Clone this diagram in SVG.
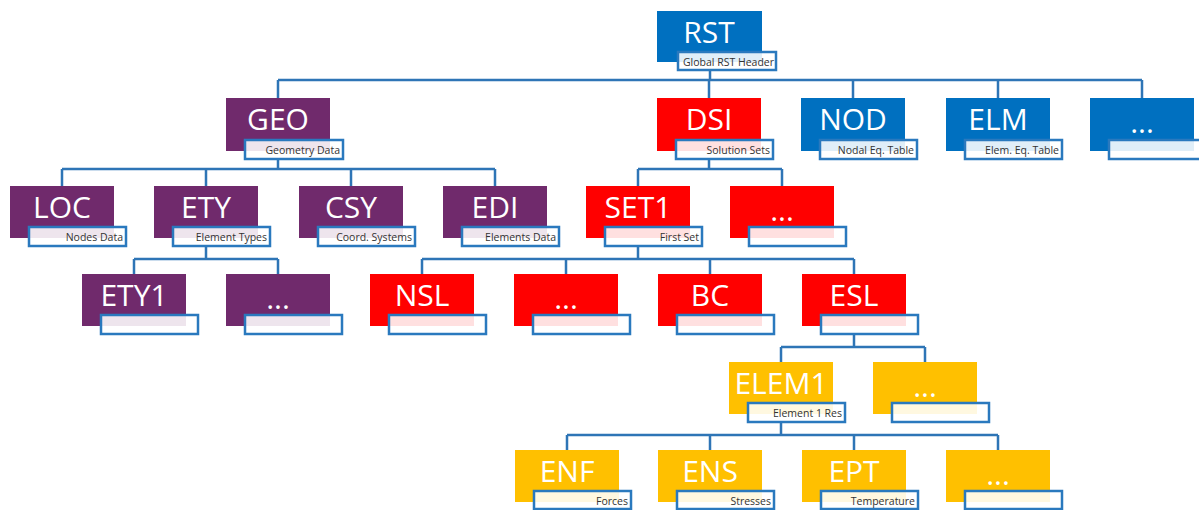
<svg xmlns="http://www.w3.org/2000/svg" width="1199" height="510" viewBox="0 0 1199 510">
<style>
.box{stroke:none}
.blue{fill:#0070C0}
.purple{fill:#702A6C}
.red{fill:#FF0000}
.gold{fill:#FFC000}
.lbl{fill:#ffffff;fill-opacity:0.88;stroke:#2A79BE;stroke-width:2.5}
.t{font-family:"Open Sans","Liberation Sans",sans-serif;font-size:30px;fill:#ffffff;text-anchor:middle}
.s{font-family:"Open Sans","Liberation Sans",sans-serif;font-size:10.5px;fill:#333333;text-anchor:end}
.c{fill:none;stroke:#2E75B6;stroke-width:2.5}
</style>
<rect width="1199" height="510" fill="#ffffff"/>
<g id="connectors">
<path class="c" d="M710 71V80M278 80H1142M278 80V98M709 80V98M853 80V98M998 80V98M1142 80V98"/>
<path class="c" d="M278 159V169M62 169H495M62 169V186M206 169V186M351 169V186M495 169V186"/>
<path class="c" d="M709 159V169M638 169H782M638 169V186M782 169V186"/>
<path class="c" d="M206 246V259M134 259H278M134 259V274M278 259V274"/>
<path class="c" d="M638 246V259M422 259H854M422 259V274M566 259V274M710 259V274M854 259V274"/>
<path class="c" d="M854 334V347M781 347H925M781 347V362M925 347V362"/>
<path class="c" d="M781 422V435M567 435H998M567 435V450M710 435V450M854 435V450M998 435V450"/>
</g>
<g id="RST"><rect class="box blue" x="657" y="11" width="105" height="51"/><text class="t" x="709" y="43">RST</text><rect class="lbl" x="678" y="52" width="98" height="18"/><text class="s" x="774" y="65.5">Global RST Header</text></g>
<g id="GEO"><rect class="box purple" x="226" y="98" width="104" height="53"/><text class="t" x="278" y="130">GEO</text><rect class="lbl" x="245" y="140" width="98" height="19"/><text class="s" x="340" y="154">Geometry Data</text></g>
<g id="DSI"><rect class="box red" x="657" y="98" width="104" height="53"/><text class="t" x="709" y="130">DSI</text><rect class="lbl" x="676" y="140" width="97" height="19"/><text class="s" x="770" y="154">Solution Sets</text></g>
<g id="NOD"><rect class="box blue" x="801" y="98" width="104" height="53"/><text class="t" x="853" y="130">NOD</text><rect class="lbl" x="820" y="140" width="97" height="19"/><text class="s" x="914" y="154">Nodal Eq. Table</text></g>
<g id="ELM"><rect class="box blue" x="946" y="98" width="104" height="53"/><text class="t" x="998" y="130">ELM</text><rect class="lbl" x="965" y="140" width="97" height="19"/><text class="s" x="1059" y="154">Elem. Eq. Table</text></g>
<g id="MORE1"><rect class="box blue" x="1090" y="98" width="104" height="53"/><text class="t" x="1142" y="133">...</text><rect class="lbl" x="1109" y="140" width="97" height="19"/></g>
<g id="LOC"><rect class="box purple" x="10" y="186" width="104" height="52"/><text class="t" x="62" y="218">LOC</text><rect class="lbl" x="29" y="227" width="97" height="19"/><text class="s" x="123" y="241">Nodes Data</text></g>
<g id="ETY"><rect class="box purple" x="154" y="186" width="104" height="52"/><text class="t" x="206" y="218">ETY</text><rect class="lbl" x="173" y="227" width="97" height="19"/><text class="s" x="267" y="241">Element Types</text></g>
<g id="CSY"><rect class="box purple" x="299" y="186" width="104" height="52"/><text class="t" x="351" y="218">CSY</text><rect class="lbl" x="318" y="227" width="97" height="19"/><text class="s" x="412" y="241">Coord. Systems</text></g>
<g id="EDI"><rect class="box purple" x="443" y="186" width="104" height="52"/><text class="t" x="495" y="218">EDI</text><rect class="lbl" x="462" y="227" width="97" height="19"/><text class="s" x="556" y="241">Elements Data</text></g>
<g id="SET1"><rect class="box red" x="586" y="186" width="104" height="52"/><text class="t" x="638" y="218">SET1</text><rect class="lbl" x="605" y="227" width="97" height="19"/><text class="s" x="699" y="241">First Set</text></g>
<g id="MORE2"><rect class="box red" x="730" y="186" width="104" height="52"/><text class="t" x="782" y="221">...</text><rect class="lbl" x="749" y="227" width="97" height="19"/></g>
<g id="ETY1"><rect class="box purple" x="82" y="274" width="104" height="52"/><text class="t" x="134" y="306">ETY1</text><rect class="lbl" x="101" y="315" width="97" height="19"/></g>
<g id="MORE3"><rect class="box purple" x="226" y="274" width="104" height="52"/><text class="t" x="278" y="309">...</text><rect class="lbl" x="245" y="315" width="97" height="19"/></g>
<g id="NSL"><rect class="box red" x="370" y="274" width="104" height="52"/><text class="t" x="422" y="306">NSL</text><rect class="lbl" x="389" y="315" width="97" height="19"/></g>
<g id="MORE4"><rect class="box red" x="514" y="274" width="104" height="52"/><text class="t" x="566" y="309">...</text><rect class="lbl" x="533" y="315" width="97" height="19"/></g>
<g id="BC"><rect class="box red" x="658" y="274" width="104" height="52"/><text class="t" x="710" y="306">BC</text><rect class="lbl" x="677" y="315" width="97" height="19"/></g>
<g id="ESL"><rect class="box red" x="802" y="274" width="104" height="52"/><text class="t" x="854" y="306">ESL</text><rect class="lbl" x="821" y="315" width="97" height="19"/></g>
<g id="ELEM1"><rect class="box gold" x="729" y="362" width="104" height="52"/><text class="t" x="781" y="394">ELEM1</text><rect class="lbl" x="748" y="403" width="97" height="19"/><text class="s" x="842" y="417">Element 1 Res</text></g>
<g id="MORE5"><rect class="box gold" x="873" y="362" width="104" height="52"/><text class="t" x="925" y="397">...</text><rect class="lbl" x="892" y="403" width="97" height="19"/></g>
<g id="ENF"><rect class="box gold" x="515" y="450" width="104" height="52"/><text class="t" x="567" y="482">ENF</text><rect class="lbl" x="534" y="491" width="97" height="18"/><text class="s" x="628" y="505">Forces</text></g>
<g id="ENS"><rect class="box gold" x="658" y="450" width="104" height="52"/><text class="t" x="710" y="482">ENS</text><rect class="lbl" x="677" y="491" width="97" height="18"/><text class="s" x="771" y="505">Stresses</text></g>
<g id="EPT"><rect class="box gold" x="802" y="450" width="104" height="52"/><text class="t" x="854" y="482">EPT</text><rect class="lbl" x="821" y="491" width="97" height="18"/><text class="s" x="915" y="505">Temperature</text></g>
<g id="MORE6"><rect class="box gold" x="946" y="450" width="104" height="52"/><text class="t" x="998" y="485">...</text><rect class="lbl" x="965" y="491" width="97" height="18"/></g>
</svg>
